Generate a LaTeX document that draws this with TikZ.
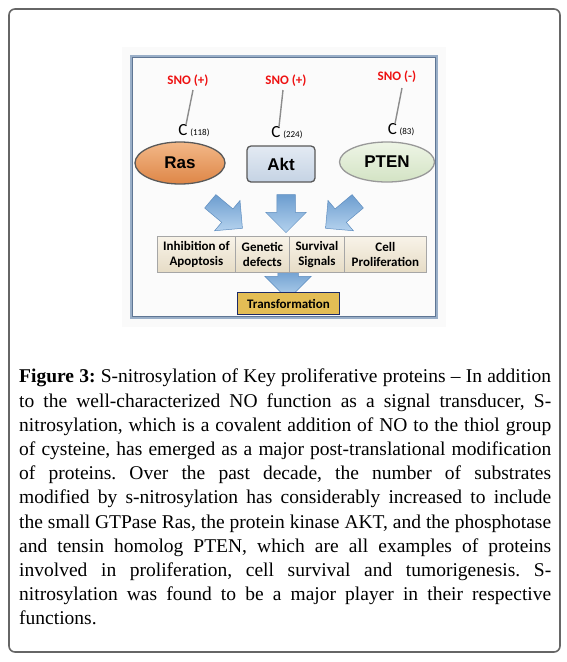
\documentclass[tikz,border=0pt]{standalone}
\usepackage{fontspec}
\setmainfont{Liberation Serif}
\newfontfamily\calfont{Carlito}
\newfontfamily\arfont{Liberation Sans}
\usetikzlibrary{calc,shapes.geometric,shapes.arrows}
\definecolor{snored}{HTML}{EE1111}
\definecolor{rasfill}{HTML}{DE8647}
\definecolor{rastop}{HTML}{F3B888}
\definecolor{aktfill}{HTML}{C5D3E4}
\definecolor{akttop}{HTML}{E3EAF3}
\definecolor{ptenfill}{HTML}{D3E3C4}
\definecolor{ptentop}{HTML}{EEF5E6}
\definecolor{arrowlight}{HTML}{B4D2EE}
\definecolor{arrowdark}{HTML}{6C9DCF}
\definecolor{arrowedge}{HTML}{5E8DBF}
\definecolor{boxtop}{HTML}{F8F3E8}
\definecolor{boxbot}{HTML}{E6DCC6}
\definecolor{trfill}{HTML}{E3BD55}
\definecolor{trline}{HTML}{1C2A66}
\definecolor{frameout}{HTML}{9AAFC8}
\definecolor{framein}{HTML}{5F7694}
\tikzset{
  protein/.style={draw=black!65, line width=1.3pt, font=\arfont\bfseries\fontsize{17}{17}\selectfont, inner sep=0pt},
  sno/.style={text=snored, font=\calfont\bfseries\fontsize{13}{13}\selectfont, inner sep=1pt},
  cys/.style={font=\calfont\fontsize{17}{17}\selectfont, inner sep=1pt},
  snoline/.style={draw=black!45, line width=1.4pt},
  effect/.style={draw=black!35, line width=0.8pt, top color=boxtop, bottom color=boxbot, minimum height=36pt,
    font=\calfont\bfseries\fontsize{13}{15.5}\selectfont, align=center, inner sep=0pt, anchor=north west},
  blockarrow/.style={single arrow, draw=arrowedge, line width=0.5pt, left color=arrowdark, right color=arrowlight,
    shading angle=0, inner sep=#1, single arrow head extend=11pt, single arrow tip angle=90},
  blockarrow/.default=8.5pt
}

\begin{document}
\begin{tikzpicture}[x=1pt, y=-1pt]
  %%%%% START %%%%%
  \useasboundingbox (0,0) rectangle (567,662);
  \fill[white] (0,0) rectangle (567,662);

  % outer frame
  \draw[black!60, line width=1.6pt, rounded corners=6pt] (9,9) rectangle (560,652);

  % picture panel
  \fill[black!2] (122,47) rectangle (446,327);
  \fill[black!1.5] (131,56) rectangle (437,318);
  \draw[frameout, line width=2.2pt] (131,56) rectangle (437,318);
  \draw[framein, line width=0.8pt] (132.5,57.5) rectangle (435.5,316.5);

  % proteins
  \node[protein, ellipse, top color=rastop, bottom color=rasfill, minimum width=90pt, minimum height=42pt] (ras) at (180,163) {Ras};
  \node[protein, rectangle, rounded corners=4pt, top color=akttop, bottom color=aktfill, minimum width=68pt, minimum height=36pt] (akt) at (281,164) {Akt};
  \node[protein, ellipse, draw=black!40, top color=ptentop, bottom color=ptenfill, minimum width=95pt, minimum height=40pt] (pten) at (387,162) {PTEN};

  % cysteines and SNO
  \node[sno] (snoRas) at (188,81) {SNO (+)};
  \node[sno] (snoAkt) at (286,81) {SNO (+)};
  \node[sno] (snoPten) at (397,77) {SNO (-)};
  \node[cys] (cRas) at (194,131) {C\,{\fontsize{9}{9}\selectfont (118)}};
  \node[cys] (cAkt) at (287,133) {C\,{\fontsize{9}{9}\selectfont (224)}};
  \node[cys] (cPten) at (401,130) {C\,{\fontsize{9}{9}\selectfont (83)}};
  \draw[snoline] ([xshift=5pt,yshift=-2pt]snoRas.south) -- ([xshift=-8pt,yshift=-1pt]cRas.north);
  \draw[snoline] ([xshift=-3pt,yshift=-2pt]snoAkt.south) -- ([xshift=-8pt,yshift=-1pt]cAkt.north);
  \draw[snoline] ([xshift=5pt,yshift=-4pt]snoPten.south) -- ([xshift=-6pt,yshift=-1pt]cPten.north);

  % block arrows
  \node[blockarrow=10pt, minimum height=28pt, single arrow head extend=13pt, rotate=-90] (arrTr) at (288,279) {};
  \node[blockarrow, minimum height=42pt, rotate=-40] (arrRas) at (223,212) {};
  \node[blockarrow=9pt, minimum height=38pt, rotate=-90] (arrAkt) at (286,209) {};
  \node[blockarrow, minimum height=42pt, rotate=-140] (arrPten) at (345,212) {};

  % effects
  \node[effect, minimum width=78pt] (inh) at (157,236) {Inhibition of\\Apoptosis};
  \node[effect, minimum width=54pt] (gen) at (235,236) {Genetic\\defects};
  \node[effect, minimum width=55pt] (surv) at (289,236) {Survival\\Signals};
  \node[effect, minimum width=82pt] (prol) at (344,236) {Cell\\Proliferation};

  \node[draw=trline, line width=1.8pt, fill=trfill, minimum width=102pt, minimum height=22pt, inner sep=0pt,
    font=\calfont\bfseries\fontsize{13}{13}\selectfont] (trans) at (288.5,303.5) {Transformation};

  % caption
  \node[anchor=north west, inner sep=0pt, text width=532pt, align=justify,
    font=\fontsize{19.5}{24.2}\selectfont] (caption) at (19,369) {\frenchspacing\tolerance=9999\hbadness=10000
    \textbf{Figure 3:} S-nitrosylation of Key proliferative proteins -- In addition\linebreak
    to the well-characterized NO function as a signal transducer, S-\linebreak
    nitrosylation, which is a covalent addition of NO to the thiol group\linebreak
    of cysteine, has emerged as a major post-translational modification\linebreak
    of proteins. Over the past decade, the number of substrates\linebreak
    modified by s-nitrosylation has considerably increased to include\linebreak
    the small GTPase Ras, the protein kinase AKT, and the phosphotase\linebreak
    and tensin homolog PTEN, which are all examples of proteins\linebreak
    involved in proliferation, cell survival and tumorigenesis. S-\linebreak
    nitrosylation was found to be a major player in their respective\linebreak
    functions.};
  %%%%% END %%%%%
\end{tikzpicture}
\end{document}
